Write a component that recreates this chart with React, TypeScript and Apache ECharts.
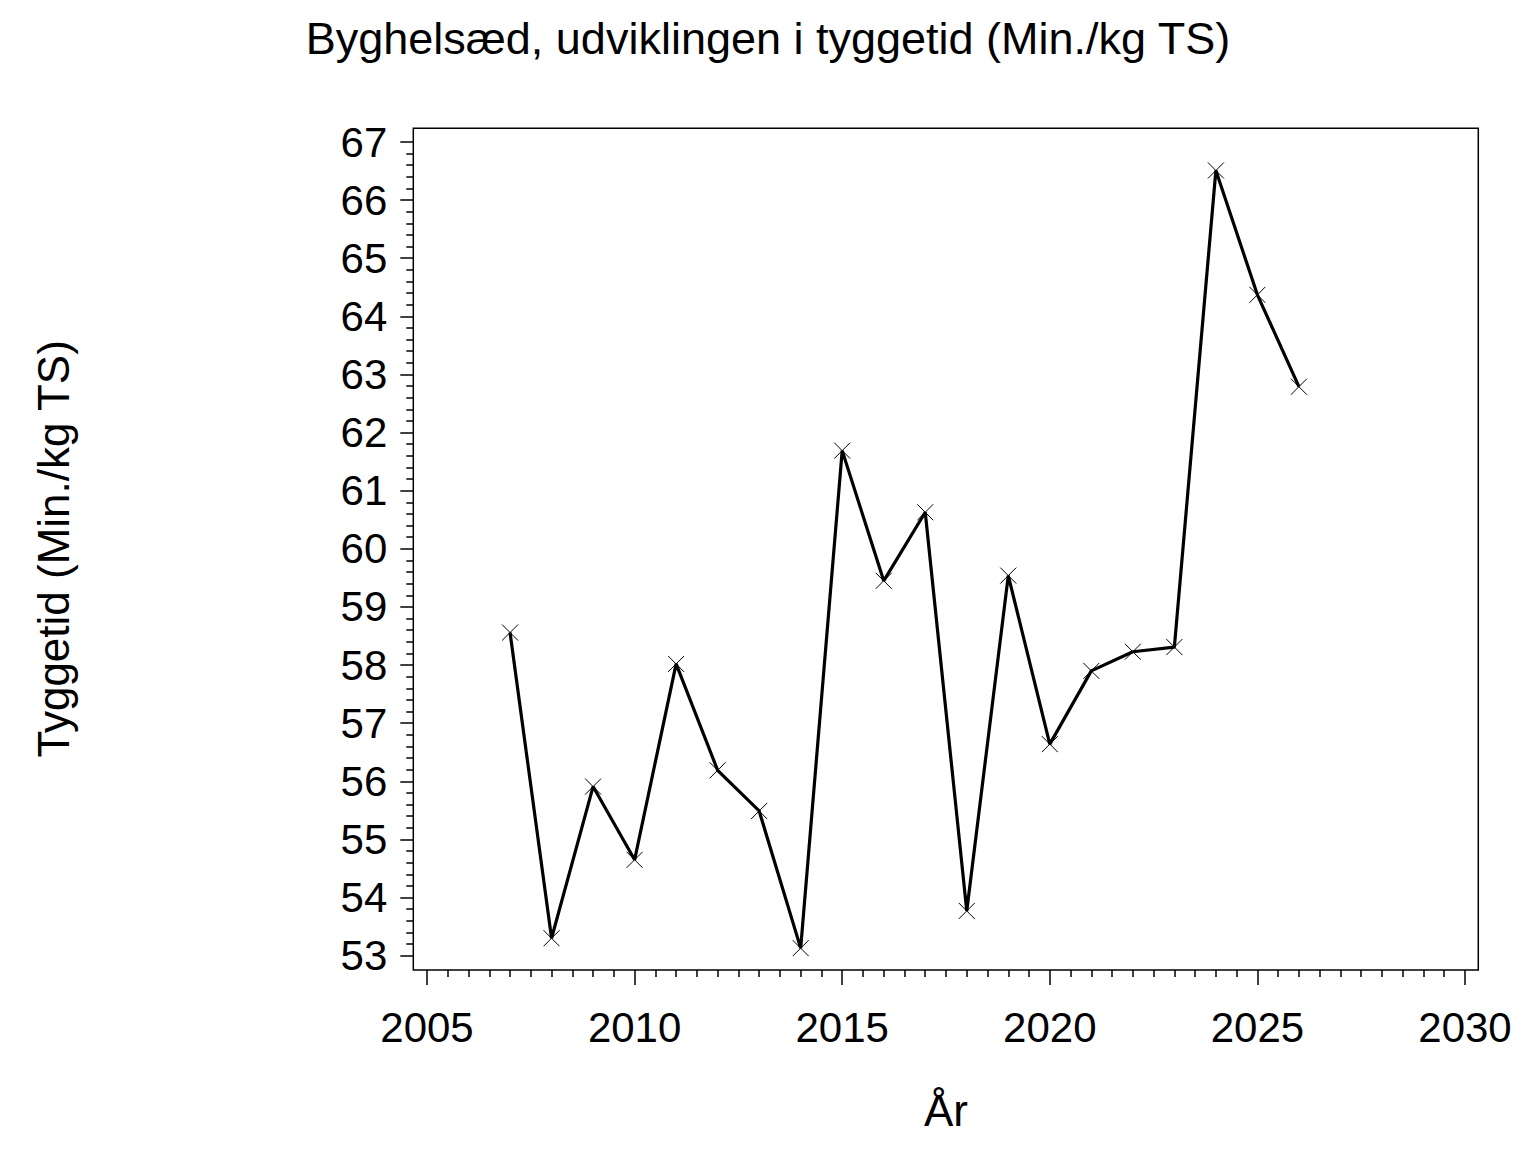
import React, { useEffect, useRef } from "react";
import * as echarts from "echarts";

const titleText = "Byghelsæd, udviklingen i tyggetid (Min./kg TS)";
const yTitle = "Tyggetid (Min./kg TS)";
const xTitle = "År";

const years = [2007, 2008, 2009, 2010, 2011, 2012, 2013, 2014, 2015, 2016, 2017, 2018, 2019, 2020, 2021, 2022, 2023, 2024, 2025, 2026];
const chewTime = [58.56, 53.3, 55.91, 54.65, 58.02, 56.19, 55.49, 53.13, 61.69, 59.45, 60.63, 53.77, 59.54, 56.64, 57.9, 58.23, 58.31, 66.51, 64.37, 62.79];

const xMin = 2005;
const xMax = 2030;
const xStep = 5;
const yMin = 53;
const yMax = 67;
const yStep = 1;

const FONT = "Liberation Sans, Arial, sans-serif";

export default function App() {
  const ref = useRef<HTMLDivElement>(null);
  useEffect(() => {
    if (!ref.current) return;
    const chart = echarts.init(ref.current, undefined, { renderer: "svg" });
    const data = years.map((y, i) => [y, chewTime[i]]);
    chart.setOption({
      animation: false,
      backgroundColor: "#fff",
      textStyle: { fontFamily: FONT, color: "#000" },
      title: {
        text: titleText,
        left: "center",
        top: 11,
        textStyle: { fontFamily: FONT, fontSize: 45, fontWeight: "normal", color: "#000" },
      },
      grid: { left: 427, right: 71, top: 142, bottom: 196.3, containLabel: false },
      xAxis: {
        type: "value",
        min: xMin,
        max: xMax,
        interval: xStep,
        offset: 14.3,
        name: xTitle,
        nameLocation: "middle",
        nameGap: 118,
        nameTextStyle: { fontFamily: FONT, fontSize: 44, color: "#000" },
        axisLine: { show: false },
        axisTick: { show: true, length: 15, lineStyle: { color: "#000", width: 1.5 } },
        minorTick: { show: true, splitNumber: 10, length: 7, lineStyle: { color: "#000", width: 1.5 } },
        axisLabel: { fontFamily: FONT, fontSize: 42, color: "#000", margin: 36, formatter: (v: number) => String(v) },
        splitLine: { show: false },
        minorSplitLine: { show: false },
      },
      yAxis: {
        type: "value",
        min: yMin,
        max: yMax,
        interval: yStep,
        offset: 13.7,
        name: yTitle,
        nameLocation: "middle",
        nameGap: 338,
        nameRotate: 90,
        nameTextStyle: { fontFamily: FONT, fontSize: 44, color: "#000" },
        axisLine: { show: false },
        axisTick: { show: true, length: 13, lineStyle: { color: "#000", width: 1.5 } },
        minorTick: { show: true, splitNumber: 5, length: 7, lineStyle: { color: "#000", width: 1.5 } },
        axisLabel: { fontFamily: FONT, fontSize: 42, color: "#000", margin: 26 },
        splitLine: { show: false },
        minorSplitLine: { show: false },
      },
      graphic: [
        {
          type: "rect",
          shape: { x: 413.3, y: 128.3, width: 1065, height: 841.7 },
          style: { fill: "none", stroke: "#000", lineWidth: 1.5 },
          silent: true,
          z: 100,
        },
      ],
      series: [
        {
          type: "line",
          data,
          lineStyle: { color: "#000", width: 3.2 },
          symbol: "path://M0 0L16 16M16 0L0 16",
          symbolSize: 16,
          showSymbol: true,
          itemStyle: { color: "none", borderColor: "#000", borderWidth: 1 },
          emphasis: { disabled: true },
        },
      ],
    });
    return () => chart.dispose();
  }, []);
  return <div ref={ref} style={{ position: "fixed", left: 0, top: 0, width: 1536, height: 1152 }} />;
}
